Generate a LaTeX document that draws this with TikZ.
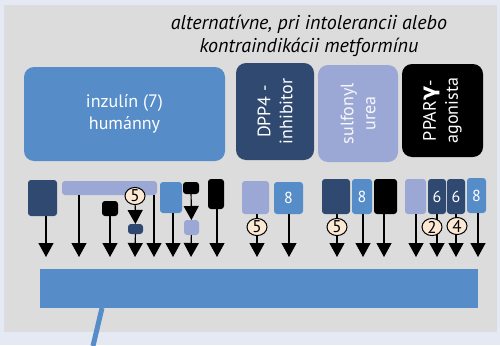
\documentclass[tikz,border=0pt]{standalone}
\usepackage{fontspec}
\setmainfont{PT Sans}
\newfontfamily\grk{DejaVu Sans}
\usetikzlibrary{arrows.meta,shapes.geometric}
\definecolor{bgout}{RGB}{228,233,243}
\definecolor{panel}{RGB}{220,220,220}
\definecolor{mblue}{RGB}{86,140,200}
\definecolor{navy}{RGB}{47,73,112}
\definecolor{lav}{RGB}{155,167,212}
\definecolor{peach}{RGB}{253,232,212}
\begin{document}
\begin{tikzpicture}[x=1pt,y=-1pt,
  big/.style={inner sep=0pt,outer sep=0pt,rounded corners=10pt},
  sq/.style={inner sep=0pt,outer sep=0pt,rounded corners=3pt,text=white,font=\fontsize{16}{16}\selectfont},
  lbl/.style={text=white,align=center,font=\fontsize{18}{22}\selectfont},
  arr/.style={-{Triangle[width=15pt,length=14pt]},line width=1.2pt,black},
  num/.style={ellipse,draw=black,fill=peach,line width=1pt,minimum width=20pt,minimum height=16pt,inner sep=0pt,font=\fontsize{17}{17}\selectfont}]
\useasboundingbox (0,0) rectangle (500,345);
\fill[bgout] (0,0) rectangle (500,345);
\fill[panel] (4,5) rectangle (497,332);
% heading
\node[font=\itshape\fontsize{20}{23}\selectfont,align=center] (head) at (309,36) {alternatívne, pri intolerancii alebo\\kontraindikácii metformínu};
% main boxes
\node[big,fill=mblue,minimum width=201,minimum height=94] (inz) at (124.5,114) {};
\node[lbl] (inztxt) at (inz) {inzulín (7)\\humánny};
\node[big,fill=navy,minimum width=78,minimum height=97] (dpp) at (275,111.5) {};
\node[lbl,rotate=90] (dpptxt) at (dpp) {DPP4 -\\inhibitor};
\node[big,fill=lav,minimum width=80,minimum height=97] (sul) at (358,113.5) {};
\node[lbl,rotate=90,text=white!92!lav] (sultxt) at (sul) {sulfonyl\\urea};
\node[big,fill=black,minimum width=81,minimum height=93] (ppa) at (442.5,110.5) {};
\node[lbl,rotate=90] (ppatxt) at (ppa) {PPAR{\grk\bfseries\fontsize{21}{21}\selectfont γ}-\\agonista};
% small boxes
\node[sq,fill=navy,minimum width=29,minimum height=36] (a1) at (42.5,198) {};
\node[sq,fill=lav,minimum width=95,minimum height=14] (lbar) at (109.5,188) {};
\node[sq,fill=black,minimum width=16,minimum height=15] (b1) at (110,208.5) {};
\node[sq,fill=navy,minimum width=15,minimum height=10] (ds) at (135.5,229) {};
\node[sq,fill=mblue,minimum width=22,minimum height=31] (bb) at (171,197.5) {};
\node[sq,fill=black,minimum width=16,minimum height=12] (b2) at (191,188) {};
\node[sq,fill=lav,minimum width=15,minimum height=15] (ls) at (191.5,227.5) {};
\node[sq,fill=black,minimum width=16,minimum height=30] (bt) at (216,194) {};
\node[sq,fill=lav,minimum width=27,minimum height=33] (l2) at (255.5,197.5) {};
\node[sq,fill=mblue,minimum width=29,minimum height=32] (e1) at (288.5,198) {8};
\node[sq,fill=navy,minimum width=28,minimum height=35] (d3) at (336,196.5) {};
\node[sq,fill=mblue,minimum width=20,minimum height=35] (e2) at (362,196.5) {8};
\node[sq,fill=black,minimum width=23,minimum height=35] (k3) at (385.5,196.5) {};
\node[sq,fill=lav,minimum width=21,minimum height=35] (l4) at (415.5,196.5) {};
\node[sq,fill=navy,minimum width=18,minimum height=35] (s1) at (437,196.5) {6};
\node[sq,fill=navy,minimum width=18,minimum height=35] (s2) at (456,196.5) {6};
\node[sq,fill=mblue,minimum width=19,minimum height=35] (e3) at (476.5,195.5) {8};
% big bar
\node[inner sep=0pt,outer sep=0pt,fill=mblue,minimum width=438,minimum height=39] (bar) at (259,288.5) {};
% tip coordinates
\foreach \n/\x in {46/46,79/79,110/110,135/135,154/154,173/173,191/191,217/217,257/257,289/289,337/337,363/363,384/384,416/416,437/437,456/456,478/478}
  \coordinate (t\n) at (\x,257);
\coordinate (lstart) at (102,308);
\coordinate (lend) at (93,346);
\draw[mblue,line width=5pt] (lstart) -- (lend);
% arrows
\draw[arr] (t46 |- a1.south) -- (t46);
\draw[arr] (t79 |- lbar.south) -- (t79);
\draw[arr] (b1) -- (t110);
\draw[arr] (t154 |- lbar.south) -- (t154);
\draw[arr] (t173 |- bb.south) -- (t173);
\draw[arr] (b2) -- (ls);
\draw[arr] (ls) -- (t191);
\draw[arr] (t217 |- bt.south) -- (t217);
\draw[arr] (t257 |- l2.south) -- (t257);
\draw[arr] (t289 |- e1.south) -- (t289);
\draw[arr] (t337 |- d3.south) -- (t337);
\draw[arr] (t363 |- e2.south) -- (t363);
\draw[arr] (t384 |- k3.south) -- (t384);
\draw[arr] (t416 |- l4.south) -- (t416);
\draw[arr] (s1) -- (t437);
\draw[arr] (s2) -- (t456);
\draw[arr] (t478 |- e3.south) -- (t478);
% numbered circles
\node[num] (c1) at (135,196) {5};
\draw[arr] (c1) -- (ds);
\draw[arr] (ds) -- (t135);
\node[num] (c2) at (257,227) {5};
\node[num] (c3) at (337,227) {5};
\node[num] (c4) at (432,227) {2};
\node[num] (c5) at (457,226) {4};
\end{tikzpicture}
\end{document}
